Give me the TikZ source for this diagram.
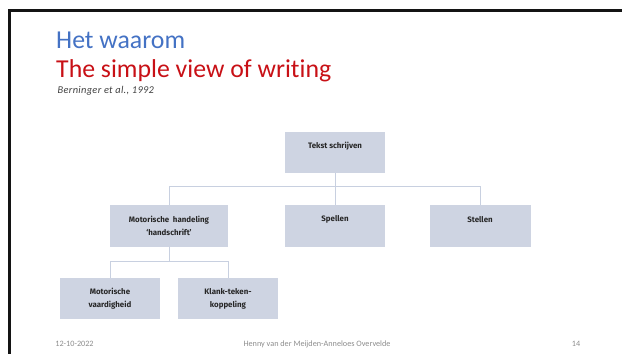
\documentclass[tikz,border=0pt]{standalone}
\usepackage{fontspec}
\setmainfont[Ligatures={NoCommon}]{Carlito}
\newfontfamily\boxfont{Fira Sans}
\newfontfamily\citefont[LetterSpace=3]{Carlito}
\definecolor{titleblue}{RGB}{68,114,196}
\definecolor{titlered}{RGB}{200,16,22}
\definecolor{boxfill}{RGB}{206,212,226}
\definecolor{linkcol}{RGB}{200,208,224}
\definecolor{boxtext}{RGB}{38,38,38}
\definecolor{footgray}{RGB}{140,140,140}
\definecolor{citegray}{RGB}{64,64,64}
\definecolor{framecol}{RGB}{20,20,20}
\tikzset{
  box/.style={fill=boxfill, draw=none, inner sep=0pt, minimum height=41pt},
  lbl/.style={font=\boxfont\bfseries\fontsize{7.9}{13}\selectfont, text=boxtext, align=center, inner sep=0pt},
  lblone/.style={lbl, yshift=6pt},
  link/.style={draw=linkcol, line width=1pt},
  foot/.style={font=\fontsize{8.2}{10}\selectfont, text=footgray, inner sep=0pt, anchor=base},
  ttl/.style={anchor=base west, inner sep=0pt, font=\fontsize{25.8}{30}\selectfont}
}
\begin{document}
\begin{tikzpicture}[x=1pt,y=-1pt]
\useasboundingbox (0,0) rectangle (622,354);
\fill[framecol] (8,9) rectangle (622,11.6);
\fill[framecol] (8,9) rectangle (10.6,354);

% titles
\node[ttl, text=titleblue] (t1) at (56,48) {Het waarom};
\node[ttl, text=titlered] (t2) at (56,77.5) {The simple view of writing};
\node[anchor=base west, inner sep=0pt, text=citegray, font=\citefont\itshape\fontsize{10.4}{12}\selectfont] (t3) at (57.5,93) {Berninger et al., 1992};

% boxes
\node[box, minimum width=100pt] (top) at (335,152.5) {};
\node[box, minimum width=118pt, minimum height=41.5pt] (mot) at (169,225.75) {};
\node[box, minimum width=100pt, minimum height=41.5pt] (spel) at (335,225.75) {};
\node[box, minimum width=101pt, minimum height=41.5pt] (stel) at (480,225.75) {};
\node[box, minimum width=100pt] (mv) at (110,298.5) {};
\node[box, minimum width=100pt] (kt) at (228,298.5) {};

% labels
\node[lblone] (ltop) at (top.center) {Tekst schrijven};
\node[lbl] (lmot) at (mot.center) {Motorische\ \ handeling\\‘handschrift’};
\node[lblone] (lspel) at (spel.center) {Spellen};
\node[lblone] (lstel) at (stel.center) {Stellen};
\node[lbl] (lmv) at (mv.center) {Motorische\\vaardigheid};
\node[lbl] (lkt) at (kt.center) {Klank-teken-\\koppeling};

% connectors
\coordinate (bus1) at (335,186.7);
\coordinate (bus2) at (169,261.7);
\draw[link] (top.south) -- (bus1);
\draw[link] (mot.north) |- (bus1) -| (stel.north);
\draw[link] (bus1) -- (spel.north);
\draw[link] (mot.south) -- (bus2);
\draw[link] (mv.north) |- (bus2) -| (kt.north);

% footer
\node[foot] (date) at (74.5,346) {12-10-2022};
\node[foot] (auth) at (317,346) {Henny van der Meijden-Anneloes Overvelde};
\node[foot] (page) at (576,346) {14};
\end{tikzpicture}
\end{document}
